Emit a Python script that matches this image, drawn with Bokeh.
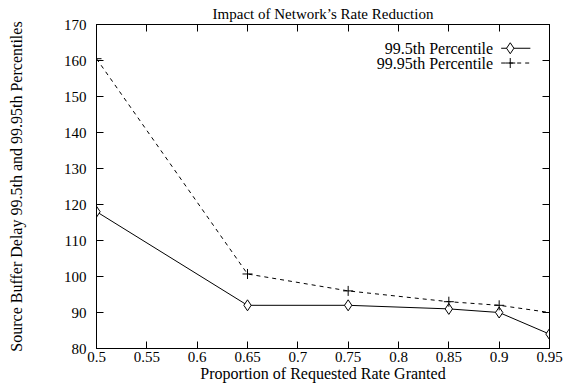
from bokeh.plotting import figure
from bokeh.models import LinearAxis, Label, FixedTicker, Range1d, Title
from bokeh.embed import file_html
from bokeh.resources import INLINE

# Data
proportion = [0.5, 0.65, 0.75, 0.85, 0.9, 0.95]
p995 = [118, 92, 92, 91, 90, 84]
p9995 = [160.5, 100.7, 96, 93, 92, 90]
x_ticks = [0.5, 0.55, 0.6, 0.65, 0.7, 0.75, 0.8, 0.85, 0.9, 0.95]
y_ticks = [80, 90, 100, 110, 120, 130, 140, 150, 160, 170]
series_names = ["99.5th Percentile", "99.95th Percentile"]

FONT = "Liberation Serif"

p = figure(width=566, height=387, output_backend="svg", toolbar_location=None,
           x_range=Range1d(0.5, 0.95), y_range=Range1d(80, 170),
           min_border_left=96, min_border_right=17, min_border_top=24, min_border_bottom=39)
p.grid.visible = False
p.outline_line_color = "black"
p.outline_line_width = 1
p.background_fill_color = "white"
p.border_fill_color = "white"

def style_axis(ax, labels=True):
    ax.axis_line_color = "black"
    ax.major_tick_line_color = "black"
    ax.minor_tick_line_color = None
    ax.major_tick_in = 7
    ax.major_tick_out = 0
    ax.major_label_text_font = FONT
    ax.major_label_text_font_style = "normal"
    ax.major_label_text_font_size = "15px"
    ax.major_label_text_color = "black"
    ax.axis_label_text_font = FONT
    ax.axis_label_text_font_size = "16px"
    ax.axis_label_text_font_style = "normal"
    ax.axis_label_text_color = "black"
    if not labels:
        ax.major_label_text_font_size = "0px"
        ax.major_label_text_alpha = 0
        ax.major_label_standoff = 0

p.xaxis.ticker = FixedTicker(ticks=x_ticks)
p.yaxis.ticker = FixedTicker(ticks=y_ticks)
style_axis(p.xaxis[0])
style_axis(p.yaxis[0])
p.xaxis.major_label_standoff = 3
p.yaxis.major_label_standoff = 10
p.xaxis.axis_label = "Proportion of Requested Rate Granted"
p.xaxis.axis_label_standoff = 0
p.yaxis.axis_label = "Source Buffer Delay 99.5th and 99.95th Percentiles"
p.yaxis.axis_label_standoff = 36

ax_r = LinearAxis(ticker=FixedTicker(ticks=y_ticks))
style_axis(ax_r, labels=False)
ax_t = LinearAxis(ticker=FixedTicker(ticks=x_ticks))
style_axis(ax_t, labels=False)
p.add_layout(ax_r, "right")
p.add_layout(ax_t, "above")

# Title
p.add_layout(Title(text="Impact of Network\u2019s Rate Reduction", align="center",
                   text_font=FONT, text_font_size="15px",
                   text_font_style="normal", text_color="black",
                   standoff=6, offset=-34), "above")

# Series
p.line(proportion, p995, line_color="black", line_width=1)
p.scatter(proportion, p995, marker="diamond", size=11, fill_color="white",
          line_color="black", line_width=1)
p.line(proportion, p9995, line_color="black", line_width=1, line_dash="4 4")
p.scatter(proportion, p9995, marker="cross", size=10, line_color="black", line_width=1)

# Legend (gnuplot style: label right-aligned, sample on the right)
leg_text_x = 0.894
leg_x0, leg_x1, leg_xm = 0.902, 0.931, 0.911
leg_rows = [163.4, 159.3]
dashes = ["solid", "4 4"]
markers = ["diamond", "cross"]
sizes = [11, 10]
for name, ly, dsh, mk, sz in zip(series_names, leg_rows, dashes, markers, sizes):
    p.add_layout(Label(x=leg_text_x, y=ly, text=name, text_align="right",
                       text_baseline="middle", text_font=FONT,
                       text_font_style="normal",
                       text_font_size="16px", text_color="black"))
    p.segment(x0=[leg_x0], y0=[ly], x1=[leg_x1], y1=[ly], line_color="black",
              line_width=1, line_dash=dsh)
    p.scatter([leg_xm], [ly], marker=mk, size=sz, fill_color="white",
              line_color="black", line_width=1)

open("out.html", "w").write(file_html(p, INLINE))
